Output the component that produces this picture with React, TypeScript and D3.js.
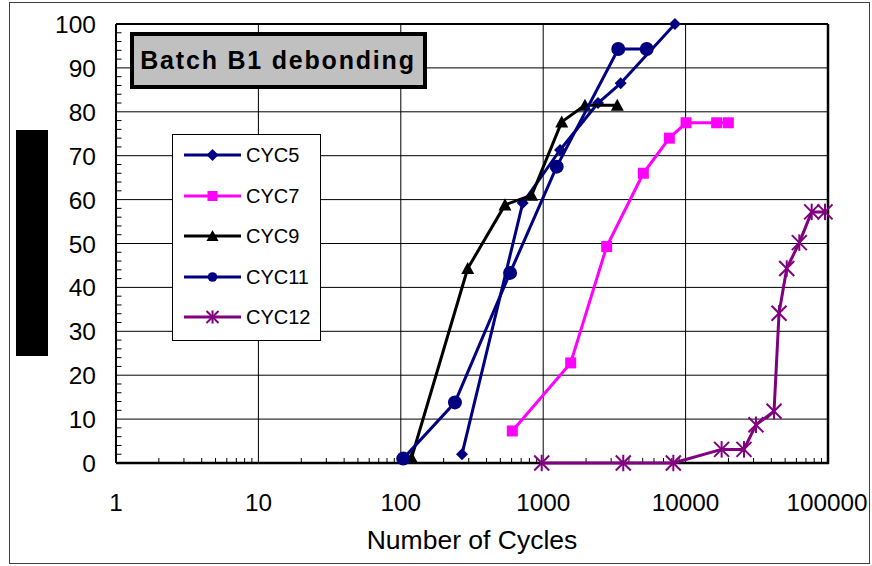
import React from "react";
import * as d3 from "d3";

const seriesNames = ["CYC5", "CYC7", "CYC9", "CYC11", "CYC12"];
const seriesColors = ["#000080", "#ff00ff", "#000000", "#000080", "#800080"];
const seriesMarkers = ["diamond", "square", "triangle", "circle", "asterisk"];

const cyc5X = [269, 718, 1313, 2426, 3500, 8420];
const cyc5Y = [2, 59.2, 71.3, 82, 86.5, 100];
const cyc7X = [607, 1560, 2790, 5050, 7690, 10070, 16530, 19950];
const cyc7Y = [7.3, 22.8, 49.3, 66, 74, 77.5, 77.5, 77.5];
const cyc9X = [119, 295, 539, 830, 1349, 1965, 3313];
const cyc9Y = [1.2, 44.3, 58.8, 61, 77.7, 81.5, 81.5];
const cyc11X = [104, 240, 585, 1244, 3367, 5330];
const cyc11Y = [1, 13.8, 43.3, 67.5, 94.3, 94.3];
const cyc12X = [976, 3650, 8200, 17900, 25700, 31200, 41800, 45300, 51300, 62900, 76800, 95300];
const cyc12Y = [0, 0, 0, 3.1, 3.1, 8.7, 11.8, 34.1, 44.3, 50.2, 57.2, 57.2];

const xTicks = [1, 10, 100, 1000, 10000, 100000];
const yTicks = [0, 10, 20, 30, 40, 50, 60, 70, 80, 90, 100];

const titleText = "Batch B1 debonding";
const xAxisTitle = "Number of Cycles";

const FONT = "'Liberation Sans', Arial, sans-serif";

function Marker({ type, x, y, color, legend }: { type: string; x: number; y: number; color: string; legend?: boolean }) {
  if (type === "diamond") {
    const s = 6;
    return <path d={`M${x},${y - s}L${x + s},${y}L${x},${y + s}L${x - s},${y}Z`} fill={color} />;
  }
  if (type === "square") {
    const s = legend ? 5 : 5.5;
    return <rect x={x - s} y={y - s} width={2 * s} height={2 * s} fill={color} />;
  }
  if (type === "triangle") {
    const s = legend ? 6 : 6.5;
    return <path d={`M${x},${y - s}L${x + s},${y + s * 0.85}L${x - s},${y + s * 0.85}Z`} fill={color} />;
  }
  if (type === "circle") {
    return <circle cx={x} cy={y} r={legend ? 4.8 : 7} fill={color} />;
  }
  const s = legend ? 6 : 7.5;
  return (
    <g stroke={color} strokeWidth={2} fill="none">
      <line x1={x - s} y1={y - s} x2={x + s} y2={y + s} />
      <line x1={x - s} y1={y + s} x2={x + s} y2={y - s} />
      <line x1={x} y1={y - s * 1.1} x2={x} y2={y + s * 1.1} />
    </g>
  );
}

export default function App() {
  const W = 872, H = 566;
  const left = 116, right = 828, top = 24, bottom = 463;
  const x = d3.scaleLog().domain([1, 100000]).range([left, right]);
  const y = d3.scaleLinear().domain([0, 100]).range([bottom, top]);

  const allX = [cyc5X, cyc7X, cyc9X, cyc11X, cyc12X];
  const allY = [cyc5Y, cyc7Y, cyc9Y, cyc11Y, cyc12Y];
  const series = seriesNames.map((name, i) => ({
    name,
    color: seriesColors[i],
    marker: seriesMarkers[i],
    pts: allX[i].map((v, j) => [v, allY[i][j]] as [number, number]),
  }));

  const line = d3.line<[number, number]>().x((d) => x(d[0])).y((d) => y(d[1]));

  const minorX: number[] = [];
  for (let dec = 1; dec < 100000; dec *= 10) {
    for (let k = 2; k <= 9; k++) minorX.push(dec * k);
  }
  const minorY = d3.range(0, 101, 2).filter((v) => v % 10 !== 0);

  const legendX = 172, legendY = 134, legendW = 148, legendH = 206;
  const legendRowY = [155, 196, 236, 277, 317];

  return (
    <svg width={W} height={H} style={{ position: "absolute", left: 0, top: 0 }} fontFamily={FONT}>
      <rect x={0} y={0} width={W} height={H} fill="#fff" />
      <rect x={9.5} y={2.5} width={860} height={561} fill="none" stroke="#404040" strokeWidth={1} />
      <rect x={16} y={130} width={32} height={226} fill="#000" />

      {yTicks.map((t) => (
        <line key={"gy" + t} x1={left} x2={right} y1={y(t)} y2={y(t)} stroke="#000" strokeWidth={1} />
      ))}
      {xTicks.map((t) => (
        <line key={"gx" + t} x1={x(t)} x2={x(t)} y1={top} y2={bottom} stroke="#000" strokeWidth={1} />
      ))}
      {minorX.map((t, i) => (
        <line key={"mx" + i} x1={x(t)} x2={x(t)} y1={bottom} y2={bottom - 5} stroke="#000" strokeWidth={1} />
      ))}
      {minorY.map((t) => (
        <line key={"my" + t} x1={left} x2={left + 5.5} y1={y(t)} y2={y(t)} stroke="#000" strokeWidth={1} />
      ))}
      <line x1={left} x2={right} y1={top} y2={top} stroke="#000" strokeWidth={2} />
      <line x1={left} x2={right + 1} y1={bottom} y2={bottom} stroke="#000" strokeWidth={2.5} />
      <line x1={left} x2={left} y1={top} y2={bottom} stroke="#000" strokeWidth={2} />
      <line x1={right} x2={right} y1={top} y2={bottom + 1} stroke="#000" strokeWidth={2.5} />

      {yTicks.map((t) => (
        <text key={"ly" + t} x={96} y={y(t) + 9} textAnchor="end" fontSize={24.5} fill="#000">
          {t}
        </text>
      ))}
      {xTicks.map((t) => (
        <text key={"lx" + t} x={x(t) - (t === 100000 ? 1 : 0)} y={511} textAnchor="middle" fontSize={24.3} fill="#000">
          {t}
        </text>
      ))}
      <text x={472} y={549} textAnchor="middle" fontSize={26.5} fill="#000">
        {xAxisTitle}
      </text>

      <rect x={132} y={34} width={293} height={53} fill="#c0c0c0" stroke="#000" strokeWidth={4} />
      <text x={278} y={68.5} textAnchor="middle" fontSize={25} fontWeight="bold" letterSpacing={1.8} fill="#000">
        {titleText}
      </text>

      <rect x={legendX + 0.5} y={legendY + 0.5} width={legendW} height={legendH} fill="#fff" stroke="#000" strokeWidth={1} />
      {series.map((s, i) => (
        <g key={"leg" + s.name}>
          <line x1={184} x2={241} y1={legendRowY[i]} y2={legendRowY[i]} stroke={s.color} strokeWidth={3} />
          <Marker type={s.marker} x={212.5} y={legendRowY[i]} color={s.color} legend />
          <text x={246} y={legendRowY[i] + 7} fontSize={20} fill="#000">
            {s.name}
          </text>
        </g>
      ))}

      {series.map((s) => (
        <g key={"s" + s.name}>
          <path d={line(s.pts) || ""} fill="none" stroke={s.color} strokeWidth={3} strokeLinejoin="round" />
          {s.pts.map((p, j) => (
            <Marker key={j} type={s.marker} x={x(p[0])} y={y(p[1])} color={s.color} />
          ))}
        </g>
      ))}
    </svg>
  );
}
